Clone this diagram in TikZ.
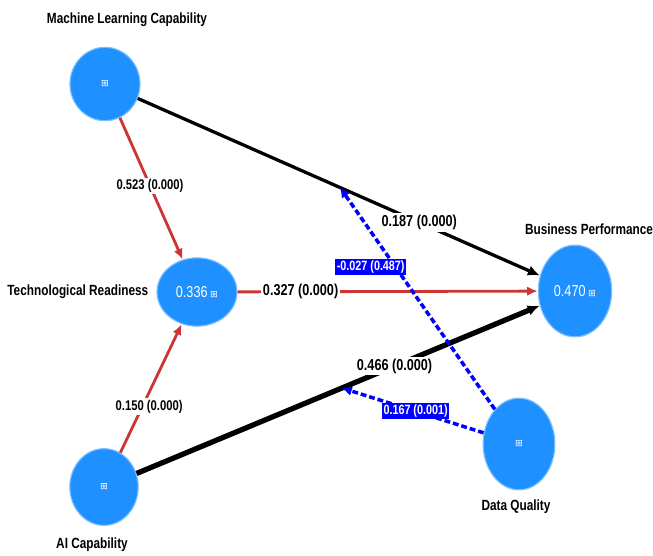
\documentclass[tikz,border=0pt]{standalone}
\usepackage{fontspec}
\setmainfont{Liberation Sans}
\newfontfamily\narrowfont[FakeStretch=0.8]{Liberation Sans}
\newfontfamily\iconfont{DejaVu Sans}
\usetikzlibrary{positioning,arrows.meta,shapes.geometric,calc}
\definecolor{lvblue}{RGB}{30,144,255}
\definecolor{lvrim}{RGB}{125,190,255}
\definecolor{pathred}{RGB}{205,52,52}
\definecolor{modblue}{RGB}{0,0,255}
\newcommand{\lvicon}{{\iconfont\fontsize{8}{8}\selectfont ⊞}}
\tikzset{
  latent/.style={ellipse,draw=lvrim,line width=1pt,fill=lvblue,text=white,inner sep=0pt,
                 font=\narrowfont\fontsize{13.5}{14}\selectfont},
  lvname/.style={font=\narrowfont\bfseries\fontsize{12.6}{13}\selectfont},
  redarr/.style={draw=pathred,line width=2.4pt,-{Latex[length=3.2mm,width=2.8mm]}},
  blkarr/.style={draw=black,-{Latex[length=3.6mm,width=3.2mm]}},
  modarr/.style={draw=modblue,line width=3pt,dash pattern=on 5pt off 2.5pt,
                 -{Latex[length=3mm,width=3mm]}},
  coef/.style={fill=white,inner sep=1.5pt,font=\narrowfont\bfseries\fontsize{12}{13}\selectfont},
  coefbig/.style={coef,font=\narrowfont\bfseries\fontsize{13.5}{14}\selectfont},
  modlbl/.style={fill=modblue,text=white,inner sep=1.5pt,
                 font=\narrowfont\bfseries\fontsize{11.5}{12}\selectfont}
}
\begin{document}
\begin{tikzpicture}[x=0.03cm,y=-0.03cm]
\useasboundingbox (0,0) rectangle (653,555);

% constructs
\node[latent, minimum width=2.1cm, minimum height=2.2cm] (ml) at (105,84) {\lvicon};
\node[latent, minimum width=2.4cm, minimum height=2.05cm] (tr) at (197,292) {0.336\,\lvicon};
\node[latent, minimum width=2.2cm, minimum height=2.75cm] (bp) at (575,291) {0.470\,\lvicon};
\node[latent, minimum width=2.05cm, minimum height=2.3cm] (ai) at (104,487) {\lvicon};
\node[latent, minimum width=2.15cm, minimum height=2.75cm] (dq) at (519,444) {\lvicon};

% construct names
\node[lvname] (mlname) at (127,20) {Machine Learning Capability};
\node[lvname, left=0.12cm of tr] (trname) {Technological Readiness};
\node[lvname] (bpname) at (589,229) {Business Performance};
\node[lvname] (dqname) at (516,507) {Data Quality};
\node[lvname] (ainame) at (92,545) {AI Capability};

% interaction points on the direct paths
\coordinate (mlbp) at ($(ml)!0.5!(bp)$);
\coordinate (aibp) at ($(ai)!0.505!(bp)$);

% structural paths
\draw[blkarr, line width=2.8pt] (ml) -- (bp) node[coefbig, pos=0.7] (c1) {0.187 (0.000)};
\draw[blkarr, line width=4.5pt] (ai) -- (bp) node[coefbig, pos=0.64] (c2) {0.466 (0.000)};
\draw[redarr] (ml) -- (tr) node[coef, pos=0.48] (c3) {0.523 (0.000)};
\draw[redarr] (ai) -- (tr) node[coef, pos=0.36, xshift=0.2cm] (c4) {0.150 (0.000)};
\draw[redarr] (tr) -- (bp) node[coefbig, pos=0.21] (c5) {0.327 (0.000)};

% moderating effects
\draw[modarr] (dq) -- (mlbp) node[modlbl, pos=0.64, xshift=-0.75cm] (c6) {-0.027 (0.487)};
\draw[modarr] (dq) -- (aibp) node[modlbl, pos=0.48] (c7) {0.167 (0.001)};
\end{tikzpicture}
\end{document}
